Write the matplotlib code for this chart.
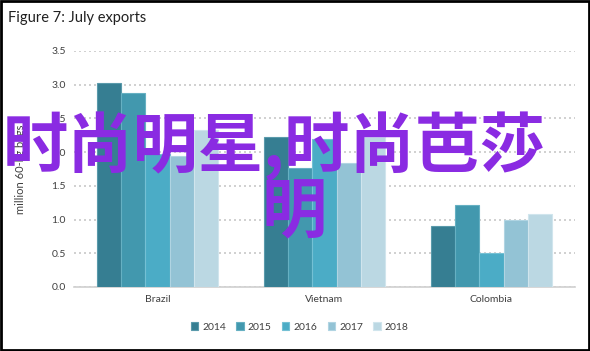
import matplotlib.pyplot as plt
import numpy as np
from matplotlib.patches import Rectangle

# donnees
pays = ['Brazil', 'Vietnam', 'Colombia']
annees = ['2014', '2015', '2016', '2017', '2018']
v2014 = [3.03, 2.23, 0.90]
v2015 = [2.88, 1.76, 1.21]
v2016 = [1.97, 2.19, 0.50]
v2017 = [1.95, 1.84, 1.00]
v2018 = [2.33, 2.22, 1.08]
valeurs = [v2014, v2015, v2016, v2017, v2018]
couleurs = ['#367e92', '#4298ae', '#4bacc6', '#93c3d5', '#bbd8e3']
bords = ['#5a9aab', '#66b0c2', '#74c0d4', '#b0d4e2', '#d0e5ed']

plt.rcParams['font.family'] = ['Lato', 'DejaVu Sans']

fig = plt.figure(figsize=(5.9, 3.51), dpi=100)
ax = fig.add_axes([74/590, 1-287/351, 501/590, 236/351])

x = np.arange(len(pays))
largeur = 0.146
for i in range(len(annees)):
    ax.bar(x + (i-2)*largeur, valeurs[i], largeur, color=couleurs[i],
           edgecolor=bords[i], linewidth=0.8, label=annees[i], zorder=3)

ax.set_xlim(-0.5, 2.5)
ax.set_ylim(0, 3.5)
ax.set_yticks(np.arange(0, 3.51, 0.5))
ax.set_yticklabels(['%.1f' % t for t in np.arange(0, 3.51, 0.5)])
ax.set_xticks(x)
ax.set_xticklabels(pays)
ax.tick_params(length=0, labelsize=7.5, colors='#404040', pad=6)
ax.grid(axis='y', color='#c8c8c8', linestyle=(0, (1.2, 1.8)), linewidth=1.2, zorder=0)
for s in ['top', 'right', 'left']:
    ax.spines[s].set_visible(False)
ax.spines['bottom'].set_color('#d0d0d0')
ax.spines['bottom'].set_linewidth(1.2)
ax.set_ylabel('million 60-kg bags', fontsize=8, color='#404040', labelpad=18)

fig.legend(loc='center', bbox_to_anchor=(0.508, 1-327/351), ncol=5, frameon=False,
           fontsize=7.5, handlelength=0.7, handleheight=0.7, handletextpad=0.4,
           columnspacing=1.0, labelcolor='#404040')

fig.text(8/590, 1-18/351, 'Figure 7: July exports', fontsize=10.5, color='#202020', va='center')

# cadre noir autour de la figure
fig.patches.append(Rectangle((0.002, 0.003), 0.996, 0.994, transform=fig.transFigure,
                             fill=False, edgecolor='black', linewidth=2))

# texte superpose
fig.text(3/590, 1-147/351, '时尚明星,时尚芭莎', fontsize=47, color='#8a2be2',
         family=['Noto Sans CJK SC', 'DejaVu Sans'], fontweight='bold', va='center', zorder=10)
fig.text(262/590, 1-213/351, '明', fontsize=47, color='#8a2be2',
         family=['Noto Sans CJK SC', 'DejaVu Sans'], fontweight='bold', va='center', zorder=10)

fig.savefig('out.png', dpi=100)
